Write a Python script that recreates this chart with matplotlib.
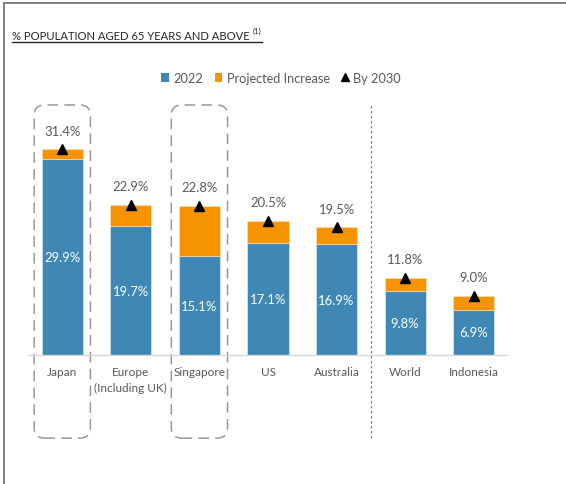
import matplotlib
matplotlib.use("Agg")
import matplotlib.pyplot as plt
from matplotlib.patches import FancyBboxPatch, Patch
from matplotlib.lines import Line2D

categories = ["Japan", "Europe\n(Including UK)", "Singapore", "US", "Australia", "World", "Indonesia"]
v2022 = [29.9, 19.7, 15.1, 17.1, 16.9, 9.8, 6.9]
v2030 = [31.4, 22.9, 22.8, 20.5, 19.5, 11.8, 9.0]
increase = [b - a for a, b in zip(v2022, v2030)]
highlight = ["Japan", "Singapore"]

BLUE = "#3F88B6"
ORANGE = "#F59300"
GRAY_TXT = "#595959"
FONT = ["Lato", "DejaVu Sans"]
plt.rcParams["font.family"] = FONT

W, H = 566, 485
fig = plt.figure(figsize=(W / 100, H / 100), dpi=100)

def fx(px):
    return px / W

def fy(py):
    return 1 - py / H

ax = fig.add_axes([fx(28), fy(356), fx(508) - fx(28), fy(94.2) - fy(356)])
x = list(range(len(categories)))
ax.bar(x, v2022, width=0.6, color=BLUE, edgecolor="#e8eef3", linewidth=0.4, zorder=2)
ax.bar(x, increase, width=0.6, bottom=v2022, color=ORANGE, edgecolor="#fbe3c0", linewidth=0.4, zorder=2)
ax.plot(x, v2030, linestyle="none", marker="^", color="black", markersize=6.5, zorder=3)

for xi, a, b in zip(x, v2022, v2030):
    ax.text(xi, a / 2, f"{a:.1f}%", ha="center", va="center", color="white", fontsize=9.4, zorder=4)
    ax.annotate(f"{b:.1f}%", (xi, b), xytext=(0, 13.5), textcoords="offset points",
                ha="center", va="center", color=GRAY_TXT, fontsize=9.4)

ax.set_xlim(-0.5, len(categories) - 0.5)
ax.set_ylim(0, 40)
ax.set_yticks([])
ax.set_xticks(x)
ax.set_xticklabels(categories, fontsize=8.5, color=GRAY_TXT, linespacing=1.55)
ax.tick_params(axis="x", length=0, pad=8)
for s in ["top", "right", "left"]:
    ax.spines[s].set_visible(False)
ax.spines["bottom"].set_color("#D9D9D9")
ax.spines["bottom"].set_linewidth(1.0)
ax.patch.set_alpha(0)

# highlight boxes (rounded, dashed)
asp = (1 / 6.545) / (1 / 68.57)
for name in highlight:
    i = categories.index(name)
    box = FancyBboxPatch((i - 0.41, -12.7), 0.82, 50.9,
                         boxstyle="round,pad=0,rounding_size=0.15", mutation_aspect=asp,
                         fill=False, edgecolor="#999999", linewidth=1.1,
                         linestyle=(0, (7, 4)), clip_on=False, zorder=1)
    ax.add_patch(box)

# separator between countries and aggregates
ax.plot([4.5, 4.5], [-12.7, 38.2], color="#7F7F7F", linewidth=0.9,
        linestyle=(0, (2, 2)), clip_on=False, zorder=1)

# title with superscript and underline
title = fig.text(fx(12), fy(36), "% POPULATION AGED 65 YEARS AND ABOVE", ha="left", va="center",
                 fontsize=8.1, color="#262626")
fig.canvas.draw()
bb = title.get_window_extent(renderer=fig.canvas.get_renderer())
sup_x = bb.x1 + 3
sup = fig.text(sup_x / W, fy(31), "(1)", ha="left", va="center", fontsize=5.5, color="#262626")
fig.canvas.draw()
bb2 = sup.get_window_extent(renderer=fig.canvas.get_renderer())
fig.add_artist(Line2D([fx(12), (bb2.x1 + 1) / W], [fy(43), fy(43)], color="#262626", linewidth=1.0))

# frame border (top and left)
fig.add_artist(Line2D([fx(4), fx(566)], [fy(4), fy(4)], color="#808080", linewidth=1.4))
fig.add_artist(Line2D([fx(4), fx(4)], [fy(4), fy(485)], color="#808080", linewidth=1.4))

# legend
handles = [Patch(facecolor=BLUE, edgecolor="none"),
           Patch(facecolor=ORANGE, edgecolor="none"),
           Line2D([], [], linestyle="none", marker="^", color="black", markersize=6)]
fig.legend(handles, ["2022", "Projected Increase", "By 2030"], loc="center",
           bbox_to_anchor=(fx(281), fy(79)), ncol=3, frameon=False,
           handlelength=0.6, handleheight=0.75, handletextpad=0.35, columnspacing=0.9,
           prop={"size": 9.2}, labelcolor=GRAY_TXT)

fig.savefig("out.png", dpi=100, facecolor="white")
